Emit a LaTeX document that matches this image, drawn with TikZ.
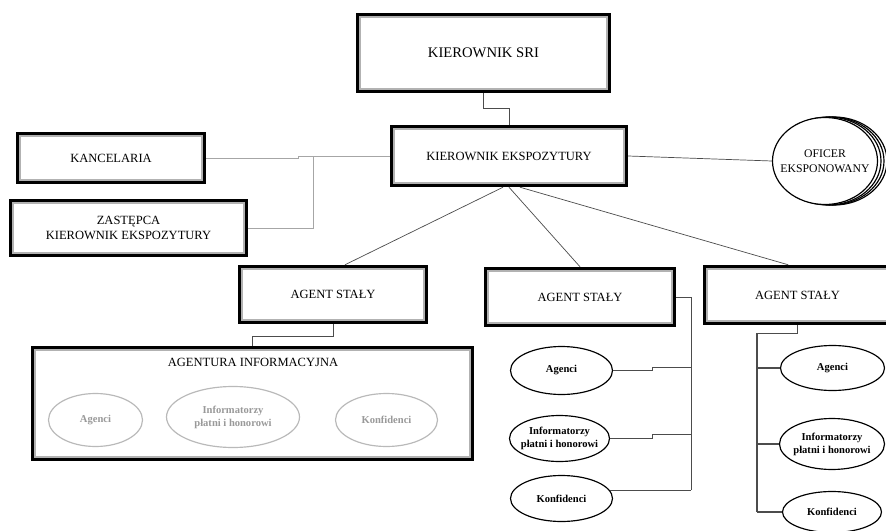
\documentclass[tikz,border=0pt]{standalone}
\usepackage{fontspec}
\setmainfont{Liberation Serif}
\usetikzlibrary{shapes.geometric}

\begin{document}
\begin{tikzpicture}[x=0.03cm, y=-0.03cm,
  unitbox/.style={draw=black, line width=3.8pt, fill=white, align=center, font=\fontsize{10.7}{13}\selectfont},
  innerline/.style={draw=gray!60, line width=1.5pt},
  unitoval/.style={ellipse, draw=black, line width=1pt, fill=white, align=center, inner xsep=-3pt, inner ysep=0pt, font=\fontsize{9}{11}\selectfont\bfseries},
  paleoval/.style={unitoval, draw=gray!55, text=gray!80},
  link/.style={draw=black!70, line width=0.6pt},
  palelink/.style={draw=gray!70, line width=0.7pt},
  buslink/.style={draw=gray!60!black, line width=1.2pt}]
  \useasboundingbox[fill=white] (0,0) rectangle (886,531);
  \clip (0,0) rectangle (886,531);

  % boxes
  \node[unitbox, minimum width=7.53cm, minimum height=2.28cm, font=\fontsize{12.5}{15}\selectfont] (sri) at (483.5,53) {KIEROWNIK SRI};
  \node[unitbox, minimum width=7.02cm, minimum height=1.74cm] (kier) at (509,156) {KIEROWNIK EKSPOZYTURY};
  \node[unitbox, minimum width=5.58cm, minimum height=1.44cm] (kanc) at (111,158) {KANCELARIA};
  \node[unitbox, minimum width=7.05cm, minimum height=1.62cm] (zast) at (128.5,228) {ZASTĘPCA\\KIEROWNIK EKSPOZYTURY};
  \node[unitbox, minimum width=5.58cm, minimum height=1.65cm] (as1) at (333,294.5) {AGENT STAŁY};
  \node[unitbox, minimum width=5.64cm, minimum height=1.68cm] (as2) at (580,297) {AGENT STAŁY};
  \node[unitbox, minimum width=5.55cm, minimum height=1.68cm] (as3) at (797.5,295) {AGENT STAŁY};
  \node[unitbox, minimum width=13.17cm, minimum height=3.33cm] (agi) at (252.5,403.5) {};
  \node[font=\fontsize{10.7}{13}\selectfont] (agit) at (253,362) {AGENTURA INFORMACYJNA};
  \foreach \n in {sri,kier,kanc,zast,as1,as2,as3,agi}
    \draw[innerline] ([shift={(4.5,4.5)}]\n.north west) rectangle ([shift={(-4.5,-4.5)}]\n.south east);

  % oficer
  \foreach \d in {9,6,3}
    \draw[line width=1pt, fill=white] (825+\d,161) ellipse (53 and 44);
  \node[unitoval, font=\fontsize{10}{12.8}\selectfont, inner xsep=-8pt, minimum width=3.15cm, minimum height=2.61cm] (ofi) at (825,161) {OFICER\\EKSPONOWANY};

  % agentura
  \node[paleoval, minimum width=2.82cm, minimum height=1.59cm] (ag1) at (95.5,420) {Agenci};
  \node[paleoval, minimum width=3.99cm, minimum height=1.83cm] (if1) at (233,417) {Informatorzy\\płatni i honorowi};
  \node[paleoval, minimum width=3.06cm, minimum height=1.59cm] (kf1) at (386.5,420) {Konfidenci};

  \node[unitoval, minimum width=3.06cm, minimum height=1.44cm] (ag2) at (561.5,370.5) {Agenci};
  \node[unitoval, minimum width=3.00cm, minimum height=1.38cm] (if2) at (559.5,438.5) {Informatorzy\\płatni i honorowi};
  \node[unitoval, minimum width=3.06cm, minimum height=1.38cm] (kf2) at (561.5,498.5) {Konfidenci};

  \node[unitoval, minimum width=3.12cm, minimum height=1.35cm] (ag3) at (832.5,368) {Agenci};
  \node[unitoval, minimum width=3.15cm, minimum height=1.53cm] (if3) at (832,444) {Informatorzy\\płatni i honorowi};
  \node[unitoval, minimum width=2.97cm, minimum height=1.23cm] (kf3) at (832,512) {Konfidenci};

  % connectors
  \draw[link] (sri.south) -- ++(0,15) -| (kier.north);
  \draw[palelink] (kanc.east) -- ++(92,0) |- (kier.west);
  \draw[palelink] (zast.east) -- ++(65,0) |- (kier.west);
  \draw[link] (kier.east) -- (ofi.west);
  \draw[link] ([xshift=-.18cm]kier.south) -- ([xshift=.36cm]as1.north);
  \draw[link] (kier.south) -- (as2.north);
  \draw[link] ([xshift=.33cm]kier.south) -- ([xshift=-.28cm]as3.north);
  \draw[link] (as1.south) -- ++(0,12) -| (agi.north);

  \coordinate (bus2) at (691,490);
  \draw[link] (as2.east) -| (bus2);
  \draw[link] (ag2.east) -- ++(39,0) -- ++(0,-3) -- ++(39,0);
  \draw[link] (if2.east) -- ++(42,0) -- ++(0,-4) -- ++(39,0);
  \draw[link] (kf2.10) -- (kf2.10 -| bus2);

  \coordinate (bus3) at (757,512);
  \draw[buslink] (as3.south) -- ++(0,8) -| (bus3);
  \foreach \n in {ag3,if3,kf3}
    \draw[buslink] (\n.west -| bus3) -- (\n.west);
\end{tikzpicture}
\end{document}
